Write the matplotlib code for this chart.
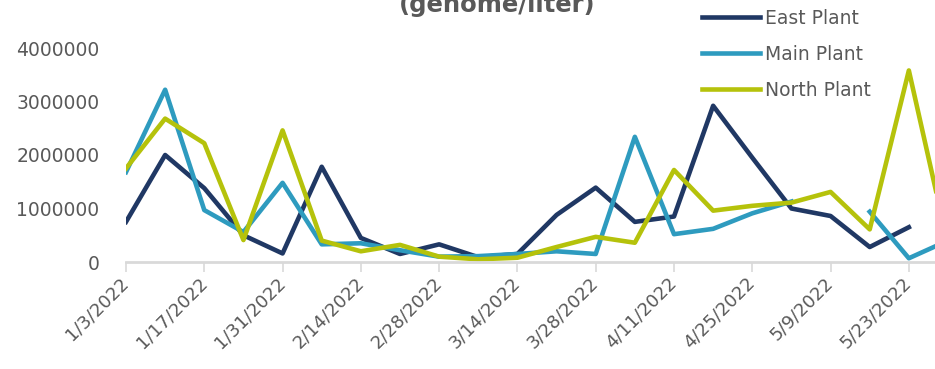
import matplotlib
matplotlib.use("Agg")
import matplotlib.pyplot as plt
import numpy as np

# weekly sampling dates (Mondays), 1/3/2022 through 5/30/2022
dates = ['1/3/2022', '1/10/2022', '1/17/2022', '1/24/2022', '1/31/2022', '2/7/2022',
         '2/14/2022', '2/21/2022', '2/28/2022', '3/7/2022', '3/14/2022', '3/21/2022',
         '3/28/2022', '4/4/2022', '4/11/2022', '4/18/2022', '4/25/2022', '5/2/2022',
         '5/9/2022', '5/16/2022', '5/23/2022', '5/30/2022']

# genome copies per liter
east_plant = [750000, 2000000, 1380000, 500000, 160000, 1780000, 450000, 150000,
              330000, 90000, 150000, 880000, 1390000, 750000, 850000, 2920000,
              1950000, 1000000, 860000, 280000, 650000, np.nan]
main_plant = [1680000, 3220000, 970000, 560000, 1480000, 330000, 350000, 220000,
              100000, 110000, 150000, 200000, 150000, 2340000, 520000, 620000,
              910000, 1130000, np.nan, 940000, 70000, 400000]
north_plant = [1750000, 2680000, 2220000, 410000, 2460000, 400000, 200000, 320000,
               100000, 50000, 80000, 280000, 470000, 360000, 1720000, 960000,
               1050000, 1110000, 1310000, 610000, 3580000, 330000]

series = [('East Plant', east_plant, '#203864'),
          ('Main Plant', main_plant, '#2e9bbf'),
          ('North Plant', north_plant, '#b5c20b')]

text_grey = '#595959'
plt.rcParams['font.family'] = 'DejaVu Sans'

fig = plt.figure(figsize=(9.35, 3.69), dpi=100)
# axes runs slightly past the right edge so the last week is cut off
ax = fig.add_axes([126 / 935, 107 / 369, 822 / 935, 214 / 369])

x = np.arange(len(dates))
for name, vals, color in series:
    ax.plot(x, vals, color=color, lw=3.3, label=name, solid_joinstyle='round')

ax.set_xlim(0, len(dates) - 1)
ax.set_ylim(0, 4000000)
ax.set_yticks([0, 1000000, 2000000, 3000000, 4000000])
ax.set_yticklabels(['0', '1000000', '2000000', '3000000', '4000000'],
                   fontsize=13.5, color=text_grey)
ax.tick_params(axis='y', length=0, pad=19)

ax.set_xticks(x[::2])
ax.set_xticklabels(dates[::2], rotation=45, ha='right', va='center',
                   rotation_mode='anchor', fontsize=13, color=text_grey)
ax.tick_params(axis='x', length=7, width=1.2, color='#d9d9d9', pad=6)

for side in ['left', 'right', 'top']:
    ax.spines[side].set_visible(False)
ax.spines['bottom'].set_color('#d9d9d9')
ax.spines['bottom'].set_linewidth(2)

fig.text(497 / 935, 1 - 12 / 369, '(genome/liter)', ha='center', va='baseline',
         fontsize=17.5, fontweight='bold', color=text_grey)

fig.legend(loc='upper left', bbox_to_anchor=(698 / 935, 1 - 5 / 369),
           frameon=False, fontsize=13.5, labelcolor=text_grey,
           handlelength=3.1, handletextpad=0.25, labelspacing=0.9,
           borderpad=0.2, borderaxespad=0)

fig.savefig('out.png', dpi=100)
